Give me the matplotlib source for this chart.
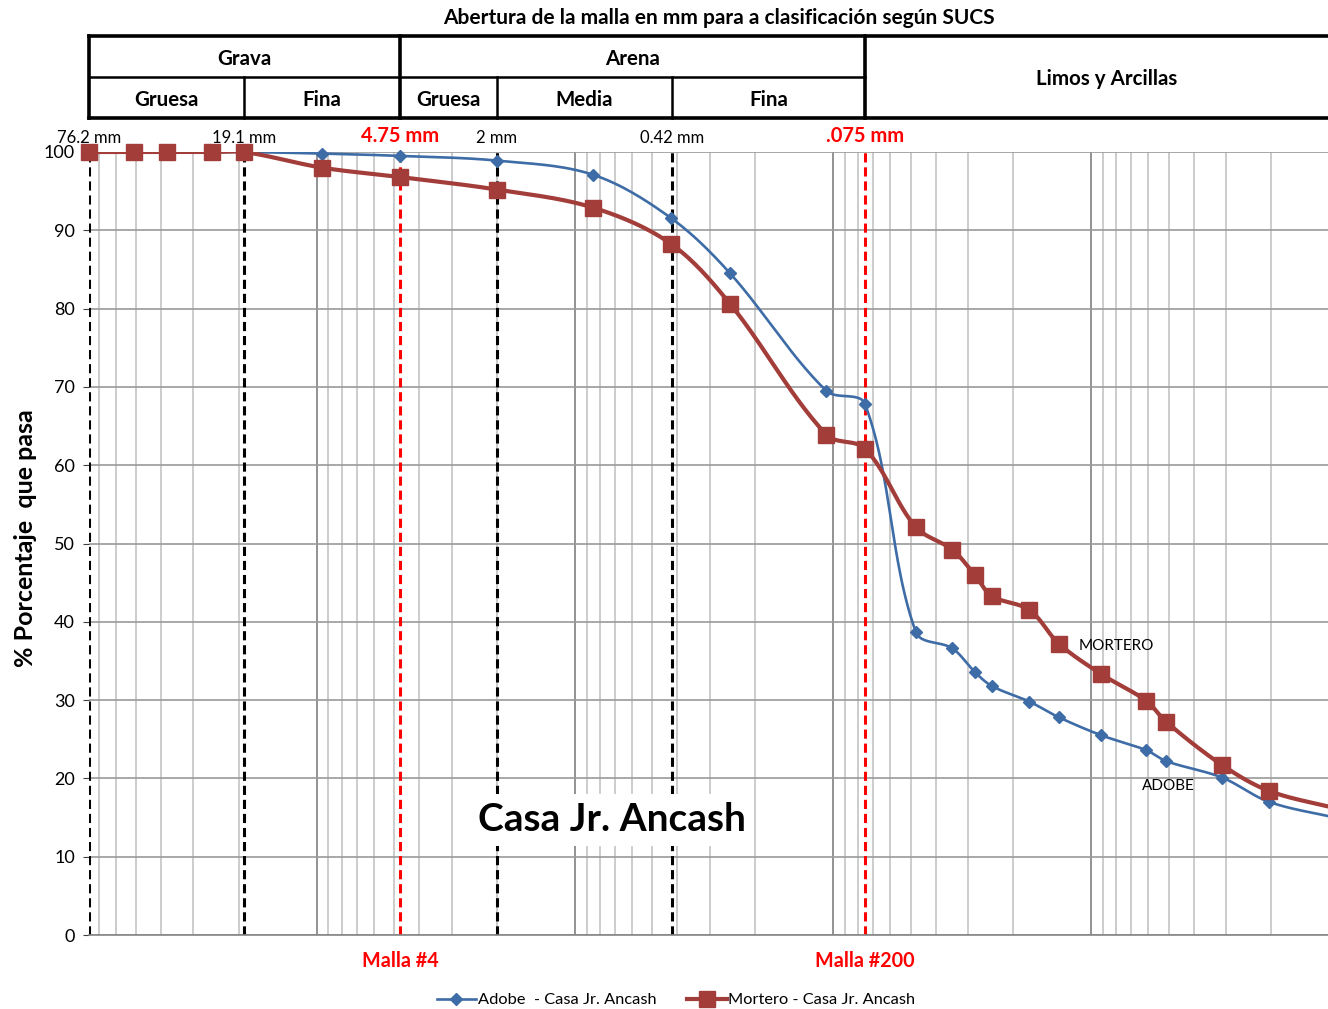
import numpy as np
import matplotlib
matplotlib.use("Agg")
import matplotlib.pyplot as plt
from matplotlib.ticker import LogLocator, MultipleLocator, NullFormatter
from matplotlib.lines import Line2D

plt.rcParams['font.family'] = ['Lato', 'DejaVu Sans']

# Sieve / hydrometer particle sizes (mm)
diam_mm = [76.2, 50.8, 38.1, 25.4, 19.05, 9.525, 4.75, 2.0, 0.85, 0.425, 0.25,
           0.106, 0.075, 0.0477, 0.0344, 0.0282, 0.0242, 0.0173, 0.0133,
           0.0091, 0.0061, 0.0051, 0.0031, 0.00204, 0.0011]
# Percent passing
adobe = [100, 100, 100, 100, 100, 99.8, 99.5, 98.9, 97.1, 91.6, 84.5,
         69.5, 67.8, 38.7, 36.6, 33.6, 31.8, 29.8, 27.8,
         25.5, 23.6, 22.2, 20.1, 17.0, 14.9]
mortero = [100, 100, 100, 100, 100, 98.0, 96.8, 95.2, 92.9, 88.3, 80.6,
           63.9, 62.1, 52.1, 49.2, 46.0, 43.3, 41.5, 37.2,
           33.3, 29.9, 27.2, 21.7, 18.4, 16.1]

# SUCS boundaries
bound_mm = [76.2, 19.1, 4.75, 2.0, 0.42, 0.075]
bound_lbl = ["76.2 mm", "19.1 mm", "4.75 mm", "2 mm", "0.42 mm", ".075 mm"]
bound_red = [False, False, True, False, False, True]

x_lim = (76.2, 0.001)

W, H = 1328, 1009
fig = plt.figure(figsize=(W / 100, H / 100), dpi=100)


def fx(px):
    return px / W


def fy(py):
    return 1 - py / H


left_px, right_px, top_px, bot_px = 89, 1349, 152, 935
# screen scale of the plot area (pixels per decade, pixels per percent)
sx = (right_px - left_px) / np.log10(x_lim[0] / x_lim[1])
sy = (bot_px - top_px) / 100.0


def smooth(xs, ys, n=30):
    """Bezier smoothing through the points; control arms proportional to
    each segment's screen length so short segments do not overshoot."""
    P = np.column_stack([np.log10(xs) * sx, np.asarray(ys, float) * sy])
    E = np.vstack([P[0], P, P[-1]])
    t = np.linspace(0, 1, n)[:, None]
    segs = []
    for i in range(len(P) - 1):
        p0, p1, p2, p3 = E[i], E[i + 1], E[i + 2], E[i + 3]
        L = np.linalg.norm(p2 - p1)
        d1 = p2 - p0
        d2 = p3 - p1
        n1 = np.linalg.norm(d1)
        n2 = np.linalg.norm(d2)
        c1 = p1 + (d1 / n1 * L / 3 if n1 > 0 else 0)
        c2 = p2 - (d2 / n2 * L / 3 if n2 > 0 else 0)
        s = (1 - t) ** 3 * p1 + 3 * (1 - t) ** 2 * t * c1 + 3 * (1 - t) * t ** 2 * c2 + t ** 3 * p2
        segs.append(s if i == 0 else s[1:])
    S = np.vstack(segs)
    return 10 ** (S[:, 0] / sx), S[:, 1] / sy


ax = fig.add_axes([fx(left_px), fy(bot_px), fx(right_px - left_px), (bot_px - top_px) / H])
ax.set_xscale('log')
ax.set_xlim(*x_lim)
ax.set_ylim(0, 100)

# Grid
ax.xaxis.set_major_locator(LogLocator(base=10, numticks=20))
ax.xaxis.set_minor_locator(LogLocator(base=10, subs=np.arange(2, 10), numticks=20))
ax.xaxis.set_major_formatter(NullFormatter())
ax.xaxis.set_minor_formatter(NullFormatter())
ax.tick_params(axis='x', which='both', length=0)
ax.grid(which='major', axis='x', color='#7f7f7f', lw=1.2)
ax.grid(which='minor', axis='x', color='#c4c4c4', lw=1.2)
ax.yaxis.set_major_locator(MultipleLocator(10))
ax.grid(which='major', axis='y', color='#9a9a9a', lw=1.2)
ax.set_axisbelow(True)
ax.tick_params(axis='y', length=4, color='#404040', labelsize=13, pad=6)
for s in ('top', 'right', 'left'):
    ax.spines[s].set_visible(False)
ax.spines['bottom'].set_color('#868686')
ax.spines['bottom'].set_linewidth(1.2)

# Boundary lines and labels
for b, lbl, red in zip(bound_mm, bound_lbl, bound_red):
    col = '#ff0000' if red else 'black'
    ax.axvline(b, color=col, lw=2.2, ls=(0, (3, 1.6)), zorder=2)
    ax.annotate(lbl, xy=(b, 1), xycoords=('data', 'axes fraction'),
                xytext=(0, 4), textcoords='offset points', ha='center', va='bottom',
                color=col, fontsize=14.5 if red else 12,
                fontweight='bold' if red else 'normal')

for b, lbl in [(4.75, "Malla #4"), (0.075, "Malla #200")]:
    ax.annotate(lbl, xy=(b, 0), xycoords=('data', 'axes fraction'),
                xytext=(0, -19), textcoords='offset points', ha='center', va='center',
                color='#ff0000', fontsize=14.2, fontweight='bold')

# Data
xa, ya = smooth(diam_mm, adobe)
xm, ym = smooth(diam_mm, mortero)
c_adobe, c_mort = '#3e6ca6', '#a23d3a'
ax.plot(xa, ya, color=c_adobe, lw=1.9, zorder=3)
ax.plot(diam_mm, adobe, ls='none', marker='D', ms=6.5, color=c_adobe, zorder=4, clip_on=False)
ax.plot(xm, ym, color=c_mort, lw=3.0, zorder=5)
ax.plot(diam_mm, mortero, ls='none', marker='s', ms=11, color=c_mort, zorder=6, clip_on=False)

ax.text(0.815, 36.9, "MORTERO", transform=ax.get_yaxis_transform(), fontsize=11,
        ha='center', va='center')
ax.text(0.857, 19.0, "ADOBE", transform=ax.get_yaxis_transform(), fontsize=11,
        ha='center', va='center')

ax.text(0.415, 0.147, "Casa Jr. Ancash", transform=ax.transAxes, fontsize=28,
        fontweight='bold', ha='center', va='center', zorder=7,
        bbox=dict(facecolor='white', edgecolor='none', pad=6))

fig.text(fx(26), fy(538), "% Porcentaje  que pasa", rotation=90, ha='center',
         va='center', fontsize=18, fontweight='bold')

# Header table with SUCS classification
hax = fig.add_axes([fx(left_px), fy(118), fx(right_px - left_px), (118 - 36) / H])
hax.set_xscale('log')
hax.set_xlim(*x_lim)
hax.set_ylim(0, 2)
hax.axis('off')
lw_out, lw_in = 2.6, 1.8
hax.plot(x_lim, [2, 2], color='black', lw=lw_out, clip_on=False, solid_capstyle='projecting')
hax.plot(x_lim, [0, 0], color='black', lw=lw_out, clip_on=False, solid_capstyle='projecting')
hax.plot([76.2, 0.075], [1, 1], color='black', lw=lw_in, clip_on=False)
for b in (76.2, 4.75, 0.075):
    hax.plot([b, b], [0, 2], color='black', lw=lw_out, clip_on=False)
for b in (19.1, 2.0, 0.42):
    hax.plot([b, b], [0, 1], color='black', lw=lw_in, clip_on=False)


def gmid(a, b):
    return np.sqrt(a * b)


hdr_kw = dict(ha='center', va='center', fontsize=14.8, fontweight='bold')
hax.text(gmid(76.2, 4.75), 1.45, "Grava", **hdr_kw)
hax.text(gmid(4.75, 0.075), 1.45, "Arena", **hdr_kw)
hax.text(gmid(0.075, 0.001), 0.95, "Limos y Arcillas", **hdr_kw)
for a, b, t in [(76.2, 19.1, "Gruesa"), (19.1, 4.75, "Fina"), (4.75, 2.0, "Gruesa"),
                (2.0, 0.42, "Media"), (0.42, 0.075, "Fina")]:
    hax.text(gmid(a, b), 0.45, t, **hdr_kw)

fig.text(fx((left_px + right_px) / 2), fy(18),
         "Abertura de la malla en mm para a clasificación según SUCS",
         ha='center', va='center', fontsize=15, fontweight='bold')

# Legend
handles = [
    Line2D([], [], color=c_adobe, lw=1.9, marker='D', ms=6),
    Line2D([], [], color=c_mort, lw=3.0, marker='s', ms=11),
]
fig.legend(handles, ["Adobe  - Casa Jr. Ancash", "Mortero - Casa Jr. Ancash"],
           loc='center', bbox_to_anchor=(fx(676), fy(1000)), ncol=2, frameon=False,
           fontsize=11.8, handlelength=2.4, handletextpad=0.1, columnspacing=1.9)

fig.savefig("out.png", dpi=100)
